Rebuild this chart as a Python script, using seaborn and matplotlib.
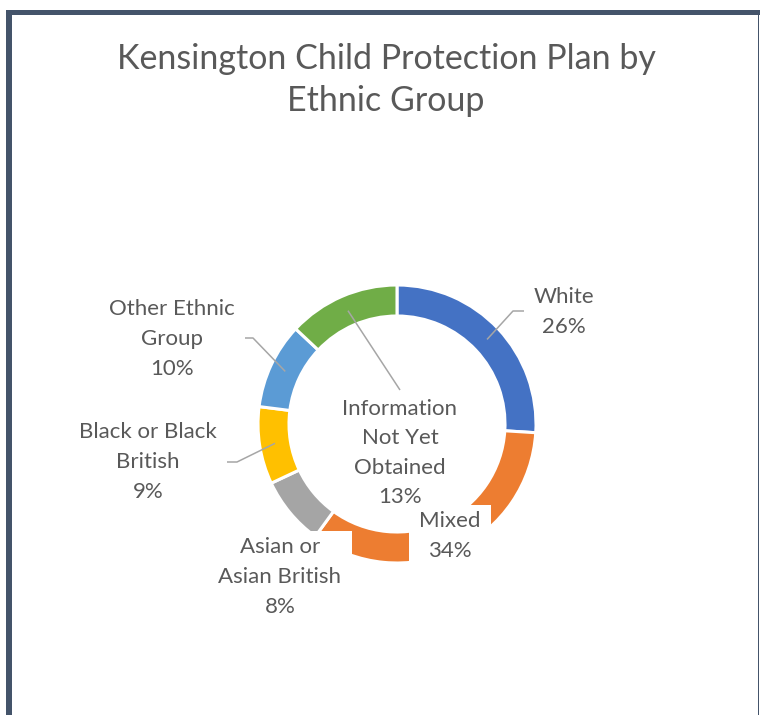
import matplotlib
matplotlib.use("Agg")
import numpy as np
import matplotlib.pyplot as plt
from matplotlib.patches import Rectangle
import seaborn as sns

# ---- data -------------------------------------------------------------
categories = [
    "White",
    "Mixed",
    "Asian or\nAsian British",
    "Black or Black\nBritish",
    "Other Ethnic\nGroup",
    "Information\nNot Yet\nObtained",
]
shares = [26, 34, 8, 9, 10, 13]
title = "Kensington Child Protection Plan by\nEthnic Group"

# ---- style ------------------------------------------------------------
palette = sns.color_palette(
    ["#4472C4", "#ED7D31", "#A5A5A5", "#FFC000", "#5B9BD5", "#70AD47"]
)
sns.set_theme(style="white")
plt.rcParams["font.family"] = ["Lato", "DejaVu Sans"]
TEXT = "#595959"
LEADER = "#A6A6A6"
FRAME = "#44546A"

W, H = 760, 715
fig = plt.figure(figsize=(W / 100, H / 100), dpi=100)
ax = fig.add_axes([0, 0, 1, 1])


def P(x, y):
    """Canvas position measured from the top-left corner."""
    return (x, H - y)


# ---- donut ------------------------------------------------------------
cx, cy = P(397, 424)
R, ring = 139, 31
wedges, _ = ax.pie(
    shares,
    colors=palette,
    startangle=90,
    counterclock=False,
    radius=R,
    center=(cx, cy),
    wedgeprops=dict(width=ring, edgecolor="white", linewidth=2.2),
)
ax.set_xlim(0, W)
ax.set_ylim(0, H)
ax.set_aspect("equal")
ax.axis("off")

# label block centres and leader-line bends (canvas positions)
label_pos = [(564, 312), (450, 536), (280, 577), (148, 462), (172, 339), (400, 453)]
leader_bends = [
    [(513, 311), (525, 311)],
    None,
    None,
    [(237, 462), (225, 462)],
    [(253, 338), (242, 338)],
    [(400, 390)],
]

r_mid = R - ring / 2
labels = []
for w, cat, v, pos, bends in zip(wedges, categories, shares, label_pos, leader_bends):
    if bends:
        ang = np.deg2rad((w.theta1 + w.theta2) / 2)
        xs = [cx + r_mid * np.cos(ang)] + [P(*b)[0] for b in bends]
        ys = [cy + r_mid * np.sin(ang)] + [P(*b)[1] for b in bends]
        ax.plot(xs, ys, color=LEADER, lw=1.1, zorder=3, solid_capstyle="butt")
    t = ax.text(
        *P(*pos),
        f"{cat}\n{v}%",
        ha="center",
        va="center",
        ma="center",
        fontsize=16,
        color=TEXT,
        linespacing=1.6,
        zorder=5,
    )
    labels.append(t)

# white label boxes (they mask the ring where they overlap it)
fig.canvas.draw()
renderer = fig.canvas.get_renderer()
inv = ax.transData.inverted()
for t in labels:
    bb = t.get_window_extent(renderer).transformed(inv)
    ax.add_patch(Rectangle((bb.x0 - 10, bb.y0 - 6), bb.width + 20, bb.height + 12,
                           fc="white", ec="none", zorder=4))

# ---- title ------------------------------------------------------------
ax.text(*P(386, 80), title, ha="center", va="center", ma="center",
        fontsize=24.5, color=TEXT, linespacing=1.4, zorder=5)

# ---- chart frame ------------------------------------------------------
ax.add_patch(Rectangle(P(6, 715), 6, 705, fc=FRAME, ec="none", zorder=6))
ax.add_patch(Rectangle(P(6, 15), 754, 5, fc=FRAME, ec="none", zorder=6))
ax.add_patch(Rectangle(P(757.5, 715), 1.5, 700, fc=FRAME, ec="none", zorder=6))

fig.savefig("out.png", dpi=100, facecolor="white")
